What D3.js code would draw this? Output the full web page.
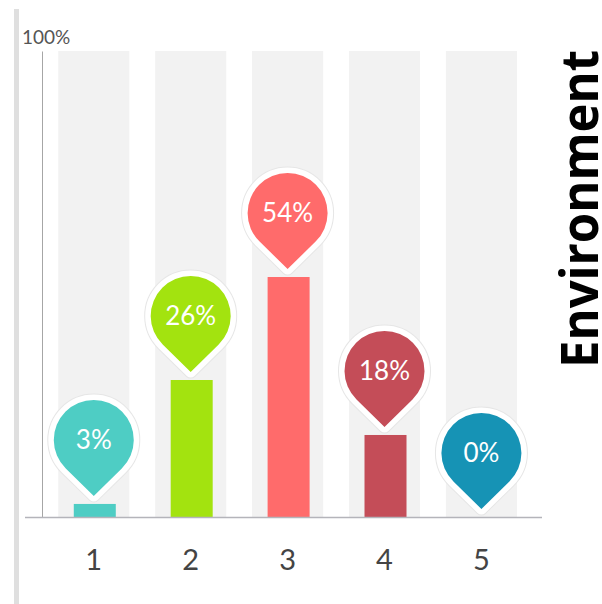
<!DOCTYPE html>
<html><head><meta charset="utf-8">
<script src="https://d3js.org/d3.v7.min.js"></script>
<style>html,body{margin:0;padding:0;background:#fff}svg{display:block}</style>
</head><body><svg id="c" width="602" height="604"></svg>
<script>
const categories = ["1","2","3","4","5"];
const labels = ["3%","26%","54%","18%","0%"];
const barHeights = [2.8, 29.4, 51.5, 17.6, 0];
const colors = ["#4ecdc4","#a3e30f","#ff6b6b","#c44d58","#1693b5"];
const title = "Environment";
const axisMaxLabel = "100%";

const svg = d3.select("#c");
const W = 602, H = 604;
const y = d3.scaleLinear().domain([0,100]).range([517,51]);
const x = d3.scaleBand().domain(categories).range([45.35,529.85]).paddingInner(0.2665).paddingOuter(0.133);
const barW = 42, pinR = 40, pinTip = 56, pinGap = 8;
const font = "Lato, 'Open Sans', sans-serif";

// left page edge
svg.append("rect").attr("x",14).attr("y",9).attr("width",5).attr("height",H-9).attr("fill","#dfdfdf");

// background bands
svg.selectAll("rect.band").data(categories).join("rect").attr("class","band")
  .attr("x",d=>x(d)).attr("width",x.bandwidth())
  .attr("y",y(100)).attr("height",y(0)-y(100)).attr("fill","#f2f2f2");

// bars
const cx = d=>x(d)+x.bandwidth()/2;
svg.selectAll("rect.bar").data(categories).join("rect").attr("class","bar")
  .attr("x",d=>cx(d)-barW/2+1).attr("width",barW)
  .attr("y",(d,i)=>y(barHeights[i])).attr("height",(d,i)=>y(0)-y(barHeights[i]))
  .attr("fill",(d,i)=>colors[i]);

// axes
const yAxis = d3.axisLeft(y).tickValues([]).tickSize(0);
svg.append("g").attr("transform","translate(42,0)").call(yAxis)
  .select(".domain").attr("stroke","#a6a6a6").attr("stroke-width",1);
svg.append("line").attr("x1",25).attr("x2",542).attr("y1",y(0)+0.5).attr("y2",y(0)+0.5)
  .attr("stroke","#b4b4ba").attr("stroke-width",1.5);
const xAxis = d3.axisBottom(x).tickSize(0).tickPadding(32);
const gx = svg.append("g").attr("transform",`translate(0,${y(0)})`).call(xAxis);
gx.select(".domain").remove();
gx.selectAll("text").attr("font-family",font).attr("font-size",29).attr("fill","#444");

svg.append("text").attr("x",22).attr("y",44).text(axisMaxLabel)
  .attr("font-family",font).attr("font-size",19).attr("fill","#555");

// pins
function pinPath(r, d){
  const a = Math.acos(r/d);
  const p = d3.path();
  const s = Math.PI/2 - a, e = Math.PI/2 + a;
  p.moveTo(0,d);
  p.lineTo(r*Math.cos(s), r*Math.sin(s));
  p.arc(0,0,r,s,e,true);
  p.closePath();
  return p.toString();
}
const pins = svg.selectAll("g.pin").data(categories).join("g").attr("class","pin")
  .attr("transform",(d,i)=>`translate(${cx(d)},${y(barHeights[i])-pinGap-pinTip})`);
pins.append("path").attr("d",pinPath(pinR,pinTip)).attr("fill","none").attr("stroke","#e6e6e6").attr("stroke-width",13).attr("stroke-linejoin","round");
pins.append("path").attr("d",pinPath(pinR,pinTip)).attr("fill","#fff").attr("stroke","#fff").attr("stroke-width",11).attr("stroke-linejoin","round");
pins.append("path").attr("d",pinPath(pinR,pinTip)).attr("fill",(d,i)=>colors[i]);
pins.append("text").attr("text-anchor","middle").attr("y",9).text((d,i)=>labels[i])
  .attr("font-family",font).attr("font-size",26).attr("fill","#fff");

// title
svg.append("text").attr("transform","translate(597.5,368) rotate(-90)").text(title)
  .attr("textLength",318).attr("lengthAdjust","spacingAndGlyphs")
  .attr("font-family","'Open Sans', sans-serif").attr("font-weight",700).attr("font-size",52.5).attr("fill","#000");
</script></body></html>
